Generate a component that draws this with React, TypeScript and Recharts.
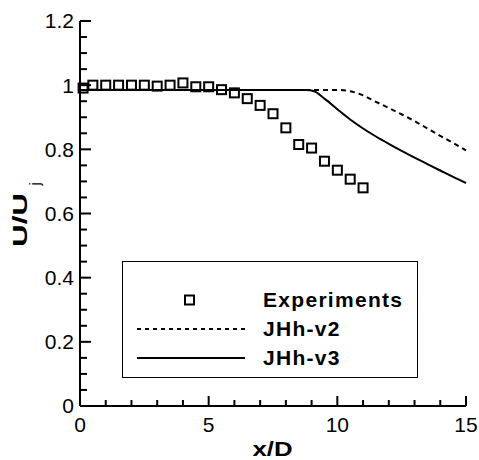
import React from 'react';
import {
  ComposedChart,
  Line,
  Scatter,
  XAxis,
  YAxis,
  Legend,
} from 'recharts';

// experiments (squares)
const expX = [0.12, 0.5, 1, 1.5, 2, 2.5, 3, 3.5, 4, 4.5, 5, 5.5, 6, 6.5, 7, 7.5, 8, 8.5, 9, 9.5, 10, 10.5, 11];
const expY = [0.991, 1.0, 1.0, 1.0, 1.0, 1.0, 0.997, 1.0, 1.007, 0.995, 0.995, 0.986, 0.976, 0.958, 0.937, 0.911, 0.867, 0.815, 0.804, 0.763, 0.735, 0.707, 0.68];

// JHh-v2 (dashed)
const v2X = [0, 10, 10.5, 11, 11.5, 12, 12.5, 13, 13.5, 14, 14.5, 15];
const v2Y = [0.985, 0.985, 0.981, 0.968, 0.948, 0.929, 0.909, 0.888, 0.865, 0.842, 0.82, 0.797];

// JHh-v3 (solid)
const v3X = [0, 8.8, 9.1, 9.5, 10, 10.5, 11, 11.5, 12, 12.5, 13, 13.5, 14, 14.5, 15];
const v3Y = [0.985, 0.985, 0.981, 0.958, 0.925, 0.893, 0.865, 0.84, 0.817, 0.795, 0.774, 0.754, 0.734, 0.714, 0.695];

const xMajor = [0, 5, 10, 15];
const xMinor = [1, 2, 3, 4, 6, 7, 8, 9, 11, 12, 13, 14];
const yMajor = [0, 0.2, 0.4, 0.6, 0.8, 1, 1.2];
const yMinor = [0.05, 0.1, 0.15, 0.25, 0.3, 0.35, 0.45, 0.5, 0.55, 0.65, 0.7, 0.75, 0.85, 0.9, 0.95, 1.05, 1.1, 1.15];

const seriesNames = ['Experiments', 'JHh-v2', 'JHh-v3'];

const FONT = '"Liberation Sans", Arial, Helvetica, sans-serif';

const expData = expX.map((x, i) => ({ x, y: expY[i] }));
const v2Data = v2X.map((x, i) => ({ x, y: v2Y[i] }));
const v3Data = v3X.map((x, i) => ({ x, y: v3Y[i] }));

// minor tick marks, inward, placed through the chart scales
const xTickData = xMinor.map((x) => ({ x, y: 0 }));
const yTickData = yMinor.map((y) => ({ x: 0, y }));

const tickStyle = { fontSize: 21, fill: '#000', fontFamily: FONT };

const Square = ({ cx, cy }: any) => (
  <rect x={cx - 4.5} y={cy - 4.5} width={9} height={9} fill="none" stroke="#000" strokeWidth={2} />
);

const XTickMark = ({ cx, cy }: any) => (
  <line x1={cx} y1={cy} x2={cx} y2={cy - 6} stroke="#000" strokeWidth={2} />
);

const YTickMark = ({ cx, cy }: any) => (
  <line x1={cx} y1={cy} x2={cx + 7} y2={cy} stroke="#000" strokeWidth={2} />
);

const XTitle = () => (
  <text x={272.5} y={456} textAnchor="middle" fontSize={20} fontWeight="bold" fontFamily={FONT}
    textLength={40} lengthAdjust="spacingAndGlyphs" fill="#000">
    x/D
  </text>
);

const YTitle = () => (
  <g>
    <text transform="rotate(-90, 27, 220)" x={27} y={220} textAnchor="middle" fontSize={20}
      fontWeight="bold" fontFamily={FONT} textLength={54} lengthAdjust="spacingAndGlyphs" fill="#000">
      U/U
    </text>
    <text transform="rotate(-90, 40, 184)" x={40} y={184} textAnchor="middle" fontSize={14}
      fontFamily={FONT} fill="#000">
      j
    </text>
  </g>
);

const LegendBox = () => {
  const markers = [
    <svg width={110} height={14}><rect x={50} y={2.5} width={9} height={9} fill="none" stroke="#000" strokeWidth={2} /></svg>,
    <svg width={110} height={14}><line x1={2} y1={7} x2={110} y2={7} stroke="#000" strokeWidth={2} strokeDasharray="4 4" /></svg>,
    <svg width={110} height={14}><line x1={2} y1={7} x2={110} y2={7} stroke="#000" strokeWidth={2} /></svg>,
  ];
  return (
    <div style={{
      boxSizing: 'border-box', width: 296, height: 117, border: '1px solid #000',
      background: '#fff', paddingTop: 23, fontFamily: FONT,
    }}>
      {seriesNames.map((name, i) => (
        <div key={name} style={{ display: 'flex', alignItems: 'center', height: 29 }}>
          <div style={{ width: 12 }} />
          {markers[i]}
          <div style={{ width: 18 }} />
          <span style={{ fontSize: 21, fontWeight: 'bold', letterSpacing: 1.3, color: '#000' }}>{name}</span>
        </div>
      ))}
    </div>
  );
};

export default function App() {
  return (
    <div style={{ position: 'absolute', left: 0, top: 0, width: 479, height: 460, background: '#fff' }}>
      <ComposedChart width={479} height={460} margin={{ top: 21, right: 13, bottom: 0, left: 0 }}>
        <Line data={v2Data} dataKey="y" type="monotone" stroke="#000" strokeWidth={2}
          strokeDasharray="5 4" dot={false} activeDot={false} isAnimationActive={false} />
        <Line data={v3Data} dataKey="y" type="monotone" stroke="#000" strokeWidth={2}
          dot={false} activeDot={false} isAnimationActive={false} />
        <Scatter data={expData} dataKey="y" shape={<Square />} isAnimationActive={false} />
        <Scatter data={xTickData} dataKey="y" shape={<XTickMark />} isAnimationActive={false} legendType="none" />
        <Scatter data={yTickData} dataKey="y" shape={<YTickMark />} isAnimationActive={false} legendType="none" />
        {/* major ticks: built-in tick lines pointing inward */}
        <XAxis
          type="number"
          dataKey="x"
          domain={[0, 15]}
          ticks={xMajor}
          height={54}
          tickSize={-10}
          tickMargin={21}
          tick={tickStyle}
          tickLine={{ stroke: '#000', strokeWidth: 2 }}
          axisLine={{ stroke: '#000', strokeWidth: 2 }}
          label={XTitle}
        />
        <YAxis
          type="number"
          dataKey="y"
          domain={[0, 1.2]}
          ticks={yMajor}
          width={80}
          tickSize={-11}
          tickMargin={17}
          tick={tickStyle}
          tickLine={{ stroke: '#000', strokeWidth: 2 }}
          axisLine={{ stroke: '#000', strokeWidth: 2 }}
          label={YTitle}
        />
        <Legend
          layout="vertical"
          align="center"
          verticalAlign="middle"
          content={<LegendBox />}
          wrapperStyle={{ left: 122, top: 261, width: 296, height: 117 }}
        />
      </ComposedChart>
    </div>
  );
}
